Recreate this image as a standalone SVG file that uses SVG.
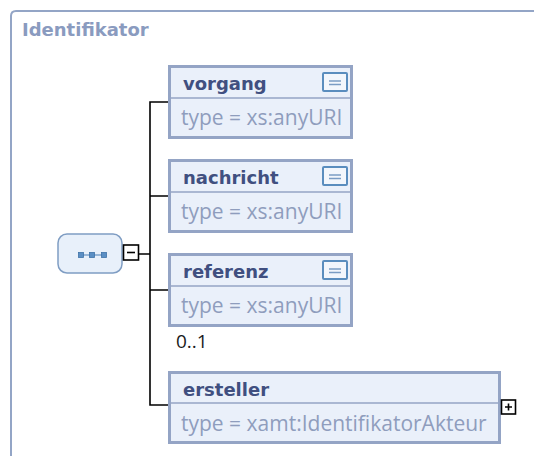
<svg xmlns="http://www.w3.org/2000/svg" width="534" height="456" viewBox="0 0 534 456">
<defs>
<style>
.frame{fill:none;stroke:#93a5c6;stroke-width:2}
.title{font-family:"DejaVu Sans",sans-serif;font-weight:bold;font-size:18px;fill:#8a9bbf}
.box{fill:#eaf0fa;stroke:#94a4c5;stroke-width:3}
.div{stroke:#94a4c5;stroke-width:1.5}
.name{font-family:"DejaVu Sans",sans-serif;font-weight:bold;font-size:18px;fill:#404f80}
.type{font-family:"Open Sans",sans-serif;font-size:21px;fill:#8f9dbd}
.icon{fill:#f2f6fc;stroke:#5a8dbe;stroke-width:2}
.iline{stroke:#7a9cc4;stroke-width:1.5}
.conn{fill:none;stroke:#000;stroke-width:1.6}
.tog{fill:#fff;stroke:#000;stroke-width:1.6}
.card{font-family:"Open Sans",sans-serif;font-size:19px;fill:#1a1a1a}
.dot{fill:#5b8fc4;stroke:#3f73a8;stroke-width:0.8}
</style>
<g id="docicon">
<rect class="icon" x="0" y="0" width="24" height="18" rx="1"/>
<line class="iline" x1="6" y1="8" x2="18" y2="8"/>
<line class="iline" x1="6" y1="11.5" x2="18" y2="11.5"/>
</g>
</defs>
<rect width="534" height="456" fill="#fff"/>
<path class="frame" d="M11 470 V16 Q11 11 16 11 H560"/>
<text class="title" x="22" y="36">Identifikator</text>

<g id="connectors">
<path class="conn" d="M139 254 H150 M168 102 H150 V405 H168 M150 196 H168 M150 290 H168"/>
</g>

<g id="root">
<rect x="58" y="234" width="64" height="39" rx="9" fill="#e8f0fa" stroke="#7f9dc3" stroke-width="1.5"/>
<line x1="81" y1="255" x2="104" y2="255" stroke="#4a7fb5" stroke-width="1"/>
<rect class="dot" x="78.5" y="252.5" width="5" height="5"/>
<rect class="dot" x="89.5" y="252.5" width="5" height="5"/>
<rect class="dot" x="101.5" y="252.5" width="5" height="5"/>
<rect class="tog" x="123.5" y="245" width="15" height="15"/>
<line x1="127" y1="252.5" x2="135" y2="252.5" stroke="#000" stroke-width="1.6"/>
</g>

<g id="vorgang">
<rect class="box" x="169.5" y="66.5" width="182" height="71"/>
<line class="div" x1="171" y1="98" x2="350" y2="98"/>
<text class="name" x="183" y="90">vorgang</text>
<use href="#docicon" x="323" y="73"/>
<text class="type" x="181" y="125">type = xs:anyURI</text>
</g>

<g id="nachricht">
<rect class="box" x="169.5" y="160.5" width="182" height="71"/>
<line class="div" x1="171" y1="192" x2="350" y2="192"/>
<text class="name" x="183" y="184">nachricht</text>
<use href="#docicon" x="323" y="167"/>
<text class="type" x="181" y="219">type = xs:anyURI</text>
</g>

<g id="referenz">
<rect class="box" x="169.5" y="254.5" width="182" height="71"/>
<line class="div" x1="171" y1="286" x2="350" y2="286"/>
<text class="name" x="183" y="278">referenz</text>
<use href="#docicon" x="323" y="261"/>
<text class="type" x="181" y="313">type = xs:anyURI</text>
<text class="card" x="176" y="348">0..1</text>
</g>

<g id="ersteller">
<rect class="box" x="169.5" y="372.5" width="330" height="70"/>
<line class="div" x1="171" y1="403" x2="498" y2="403"/>
<text class="name" x="183" y="396">ersteller</text>
<text class="type" x="181" y="431">type = xamt:IdentifikatorAkteur</text>
<rect class="tog" x="501.5" y="400" width="14" height="14"/>
<path d="M505 407 H512 M508.5 403.5 V410.5" stroke="#000" stroke-width="1.6"/>
</g>
</svg>
